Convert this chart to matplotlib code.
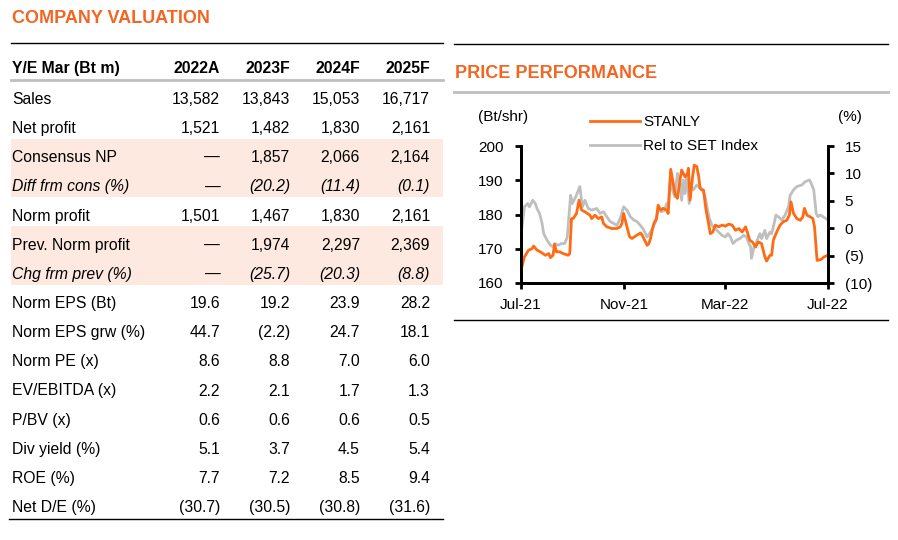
import matplotlib
matplotlib.use("Agg")
import matplotlib.pyplot as plt
import pandas as pd

plt.rcParams['font.family'] = ['Liberation Sans', 'DejaVu Sans']

ORANGE = '#F26522'
BAND = '#FDE9E0'
GREY = '#BFBFBF'

# ---- table data ----
years = ['2022A', '2023F', '2024F', '2025F']
row_labels = ['Sales', 'Net profit', 'Consensus NP', 'Diff frm cons (%)',
              'Norm profit', 'Prev. Norm profit', 'Chg frm prev (%)',
              'Norm EPS (Bt)', 'Norm EPS grw (%)', 'Norm PE (x)',
              'EV/EBITDA (x)', 'P/BV (x)', 'Div yield (%)', 'ROE (%)',
              'Net D/E (%)']
sales = [13582, 13843, 15053, 16717]
net_profit = [1521, 1482, 1830, 2161]
consensus_np = [None, 1857, 2066, 2164]
diff_cons = [None, -20.2, -11.4, -0.1]
norm_profit = [1501, 1467, 1830, 2161]
prev_norm_profit = [None, 1974, 2297, 2369]
chg_prev = [None, -25.7, -20.3, -8.8]
norm_eps = [19.6, 19.2, 23.9, 28.2]
eps_growth = [44.7, -2.2, 24.7, 18.1]
norm_pe = [8.6, 8.8, 7.0, 6.0]
ev_ebitda = [2.2, 2.1, 1.7, 1.3]
pbv = [0.6, 0.6, 0.6, 0.5]
div_yield = [5.1, 3.7, 4.5, 5.4]
roe = [7.7, 7.2, 8.5, 9.4]
net_de = [-30.7, -30.5, -30.8, -31.6]
table_rows = [sales, net_profit, consensus_np, diff_cons, norm_profit,
              prev_norm_profit, chg_prev, norm_eps, eps_growth, norm_pe,
              ev_ebitda, pbv, div_yield, roe, net_de]
italic_rows = [3, 6]
shaded_groups = [(2, 3), (5, 6)]

# ---- price chart data (days from 1 Jul 2021) ----
stanly_days = [0, 4, 9, 13, 15, 19, 23, 29, 33, 35, 38, 40, 42, 44, 46, 50, 56, 58,
               60, 62, 66, 69, 72, 76, 82, 84, 88, 92, 96, 98, 102, 108, 114, 118,
               120, 122, 126, 129, 132, 138, 142, 144, 148, 150, 152, 154, 156, 158,
               161, 163, 166, 169, 173, 175, 178, 181, 183, 186, 189, 191, 195, 198,
               199, 201, 204, 206, 209, 211, 213, 217, 220, 223, 225, 228, 231, 235,
               239, 243, 247, 251, 255, 259, 263, 267, 269, 272, 275, 279, 282, 286,
               290, 292, 296, 298, 300, 304, 308, 312, 316, 319, 321, 324, 328, 332,
               335, 337, 340, 344, 347, 349, 352, 356, 358, 360, 365]
stanly_price = [163.7, 167.6, 169.6, 170.0, 170.8, 169.6, 169.1, 168.1, 168.6, 167.4,
                168.1, 171.3, 169.1, 169.1, 169.1, 168.6, 168.1, 168.6,
                178.8, 178.8, 180.3, 184.2, 181.3, 180.8, 179.8, 178.8, 179.8, 178.8,
                179.3, 177.4, 176.4, 175.9, 175.9, 176.4,
                177.4, 180.3, 176.4, 173.5, 173.0, 174.0, 174.6, 174.0, 172.0, 171.0,
                171.5, 173.0, 175.4, 177.4,
                178.8, 182.7, 181.3, 181.8, 181.3, 180.3, 193.2, 189.1, 186.1, 184.7,
                190.0, 193.0, 191.0, 192.0,
                193.5, 184.2, 191.0, 194.4, 194.0, 191.5, 187.6, 187.1, 181.3, 177.4,
                174.4, 174.9, 176.9, 176.4,
                176.9, 176.6, 177.2, 176.9, 175.4, 175.9, 174.9, 176.4, 174.9, 172.5,
                172.0, 170.5, 172.0, 171.5,
                167.6, 166.4, 168.1, 168.1, 172.5, 174.9, 176.9, 177.9, 178.3, 179.8,
                183.7, 180.3, 178.8, 178.3,
                179.3, 181.8, 179.8, 179.3, 178.8, 176.4, 166.6, 166.8, 167.1, 167.6,
                168.1]

rel_days = [1, 4, 8, 10, 14, 17, 19, 22, 25, 27, 31, 35, 38, 40, 44, 48, 52, 55,
            59, 61, 65, 70, 73, 76, 80, 84, 90, 94, 98, 102, 106, 110, 114, 118,
            122, 126, 130, 134, 138, 142, 145, 150, 154, 157, 161, 163, 167, 171,
            173, 175, 178, 180, 183, 186, 189, 191, 193, 195, 197, 200, 202, 205,
            209, 213, 217, 219, 221, 224, 227, 231, 235, 239, 243, 246, 249, 252,
            256, 260, 265, 268, 271, 273, 274, 277, 280, 284, 286, 290, 292, 296,
            298, 301, 303, 306, 310, 314, 318, 320, 324, 328, 334, 338, 343, 345,
            348, 351, 353, 356, 359, 362, 365]
rel_set = [0.0, 3.9, 4.5, 3.9, 5.1, 4.5, 3.6, 2.7, 0.9, -1.0, -2.2, -3.1, -3.4, -2.8,
           -3.1, -2.8, -2.8, -1.6,
           6.0, 4.5, 5.7, 7.6, 3.9, 5.1, 3.6, 3.3, 3.6, 2.7, 3.0, 2.1, 1.2, 0.9, 0.5, 1.8,
           3.9, 3.3, 2.1, 1.5, 1.2, 0.5, -0.1, -1.6, -0.7, 0.2, 1.5, 3.3, 3.0, 3.3,
           4.5, 3.9, 10.3, 7.0, 5.7, 10.0, 8.5, 5.1, 8.8, 6.3, 9.7, 4.5, 7.6, 7.0,
           7.9, 7.3, 6.6, 5.7, 3.9, 1.8, 0.5, -0.1, -0.7, -1.3, -1.6, -1.0, -1.6, -2.8,
           -2.2, -1.9, -1.3, -1.6, -2.8, -3.4, -5.5, -3.4, -2.5, -1.0, -1.9, -0.4, -1.9,
           -0.7,
           -1.0, 0.9, 2.4, 2.1, 1.5, 2.4, 3.9, 6.0, 7.0, 7.6, 7.9, 8.5, 8.8, 8.2,
           7.0, 2.7, 2.1, 2.4, 2.1, 1.8, 1.5]

start = pd.Timestamp('2021-07-01')
x_ticks = ['2021-07-01', '2021-11-01', '2022-03-01', '2022-07-01']
x_tick_labels = ['Jul-21', 'Nov-21', 'Mar-22', 'Jul-22']
left_ticks = [160, 170, 180, 190, 200]
right_ticks = [-10, -5, 0, 5, 10, 15]


def fmt(v, big):
    if v is None:
        return '\u2014'
    s = f'{abs(v):,.0f}' if big else f'{abs(v):.1f}'
    return f'({s})' if v < 0 else s


W, H = 898, 540
fig = plt.figure(figsize=(W / 100, H / 100), dpi=100)


def fx(px):
    return px / W


def fy(py):
    return 1 - py / H


def hline(x0, x1, y, color, lw):
    fig.add_artist(plt.Line2D([fx(x0), fx(x1)], [fy(y), fy(y)], color=color, lw=lw))


# ---- left: company valuation table ----
fig.text(fx(12), fy(23), 'COMPANY VALUATION', color=ORANGE, fontsize=13,
         fontweight='bold', va='baseline')
hline(11, 443, 42.5, 'black', 1.0)

col_right = [220, 290, 360, 430]
fs = 11.3
fig.text(fx(12), fy(73), 'Y/E Mar (Bt m)', fontsize=fs, fontweight='bold', va='baseline')
for xr, yr in zip(col_right, years):
    fig.text(fx(xr), fy(73), yr, fontsize=fs, fontweight='bold', va='baseline', ha='right')
hline(11, 443, 79.5, GREY, 2.0)

row_y0, row_step = 104, 29.15
for a, b in shaded_groups:
    top = row_y0 + a * row_step - 23.5
    bot = row_y0 + b * row_step + 5.8
    fig.add_artist(plt.Rectangle((fx(11), fy(bot)), fx(443) - fx(11), fy(top) - fy(bot),
                                 color=BAND, lw=0, zorder=0))

for i, (lab, vals) in enumerate(zip(row_labels, table_rows)):
    yb = fy(row_y0 + i * row_step)
    style = 'italic' if i in italic_rows else 'normal'
    big = i in (0, 1, 2, 4, 5)
    fig.text(fx(12), yb, lab, fontsize=fs, style=style, va='baseline')
    for xr, v in zip(col_right, vals):
        fig.text(fx(xr), yb, fmt(v, big), fontsize=fs, style=style, va='baseline', ha='right')
hline(9, 443, 518.5, 'black', 1.0)

# ---- right: price performance chart ----
hline(454, 888, 43.5, 'black', 1.0)
fig.text(fx(455), fy(78), 'PRICE PERFORMANCE', color=ORANGE, fontsize=13,
         fontweight='bold', va='baseline')
hline(454, 888, 92, GREY, 2.0)
hline(454, 888, 320, 'black', 1.0)

ax = fig.add_axes([fx(521), fy(283), fx(828) - fx(521), fy(146) - fy(283)])
ax2 = ax.twinx()
ax.set_zorder(ax2.get_zorder() + 1)
ax.patch.set_visible(False)

d1 = [start + pd.Timedelta(days=d) for d in stanly_days]
d2 = [start + pd.Timedelta(days=d) for d in rel_days]
l2, = ax2.plot(d2, rel_set, color=GREY, lw=2.0, label='Rel to SET Index')
l1, = ax.plot(d1, stanly_price, color='#FF6A13', lw=2.0, label='STANLY')

ax.set_xlim(pd.Timestamp(x_ticks[0]), pd.Timestamp(x_ticks[-1]))
ax.set_ylim(160, 200)
ax2.set_ylim(-10, 15)
ax.set_xticks([pd.Timestamp(t) for t in x_ticks])
ax.set_xticklabels(x_tick_labels)
ax.set_yticks(left_ticks)
ax2.set_yticks(right_ticks)
ax2.set_yticklabels([f'({abs(t)})' if t < 0 else str(t) for t in right_ticks])

for a in (ax, ax2):
    a.spines['top'].set_visible(False)
    for s in ('left', 'right', 'bottom'):
        a.spines[s].set_linewidth(2.0)
    a.tick_params(length=4, width=2.0, labelsize=11, direction='out')
ax.tick_params(axis='y', pad=8.5)
ax.tick_params(axis='x', pad=7)
ax2.tick_params(axis='y', pad=8)

fig.text(fx(478), fy(117), '(Bt/shr)', fontsize=11, va='center')
fig.text(fx(838), fy(117), '(%)', fontsize=11, va='center')
fig.legend([l1, l2], ['STANLY', 'Rel to SET Index'], loc='upper left',
           bbox_to_anchor=(fx(590), fy(115)), frameon=False, fontsize=11,
           handlelength=3.3, handletextpad=0.2, labelspacing=0.65,
           borderaxespad=0, borderpad=0)

fig.savefig('out.png', dpi=100)
